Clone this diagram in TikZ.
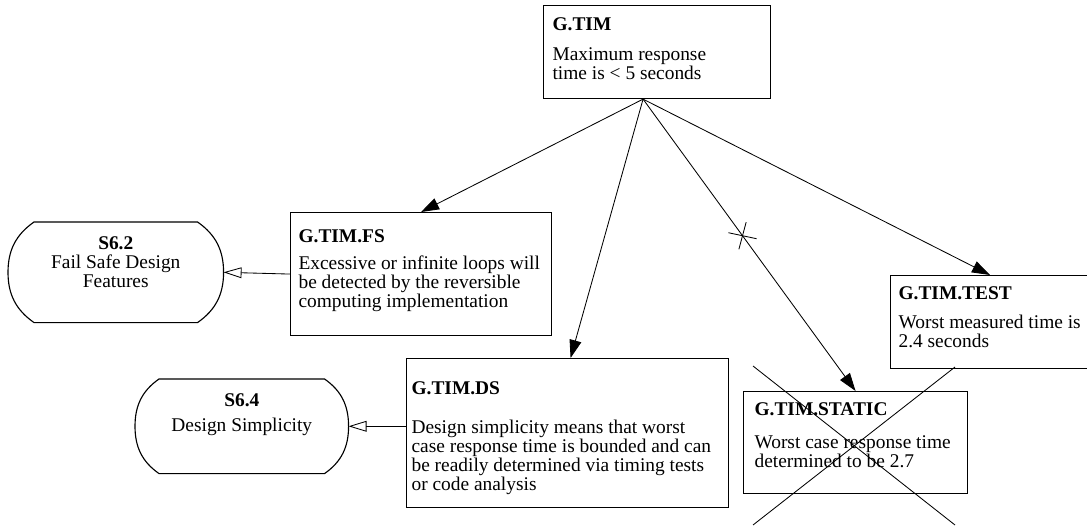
\documentclass[tikz,border=0pt]{standalone}
\usepackage{fontspec}
\setmainfont{Liberation Serif}
\usetikzlibrary{arrows.meta,calc}

\begin{document}
\begin{tikzpicture}[
    font=\fontsize{13.8}{13.5}\selectfont,
    goal/.style={draw, line width=0.8pt, rectangle, anchor=north west, inner xsep=0.2cm},
    strat/.style={rectangle, anchor=north west, inner xsep=0cm},
    solid arrow/.style={-{Triangle[length=0.45cm,width=0.3cm]}, line width=0.6pt},
    open arrow/.style={-{Triangle[open,length=0.45cm,width=0.27cm]}, line width=0.6pt}]
  \useasboundingbox (0,0) rectangle (27.175,13.15);
  % goals
  \node[goal, inner xsep=0.225cm, inner ysep=0.29cm] (gtim) at (13.575,13.025)
    {\parbox[t][1.745cm][t]{5.225cm}{\raggedright\textbf{G.TIM}\\[8.4pt]Maximum response\\time is < 5 seconds}};
  \node[goal, inner ysep=0.425cm] (fs) at (7.25,7.85)
    {\parbox[t][2.225cm][t]{6.125cm}{\raggedright\textbf{G.TIM.FS}\\[6pt]Excessive or infinite loops will\\be detected by the reversible\\computing implementation}};
  \node[goal, inner xsep=0.125cm, inner ysep=0.565cm] (ds) at (10.15,4.2)
    {\parbox[t][2.595cm][t]{7.8cm}{\raggedright\textbf{G.TIM.DS}\\[14.8pt]Design simplicity means that worst\\case response time is bounded and can\\be readily determined via timing tests\\or code analysis}};
  \node[goal, inner xsep=0.275cm, inner ysep=0.265cm] (static) at (18.575,3.375)
    {\parbox[t][2.02cm][t]{5.05cm}{\raggedright\textbf{G.TIM.STATIC}\\[10pt]Worst case response time\\determined to be 2.7}};
  \node[goal, inner ysep=0.265cm] (test) at (22.25,6.275)
    {\parbox[t][1.795cm][t]{5.2cm}{\raggedright\textbf{G.TIM.TEST}\\[7.2pt]Worst measured time is\\2.4 seconds}};
  % strategies
  \node[strat, inner ysep=0.35cm] (s62) at (0.2,7.6)
    {\parbox[t][1.8cm][t]{5.375cm}{\centering\textbf{S6.2}\\Fail Safe Design\\Features}};
  \node[strat, inner ysep=0.365cm] (s64) at (3.375,3.675)
    {\parbox[t][1.62cm][t]{5.325cm}{\centering\textbf{S6.4}\\[4.2pt]Design Simplicity}};
  \foreach \n/\b in {s62/0.65, s64/0.6}
    \draw[line width=0.8pt] ($(\n.north west)+(\b,0)$) -- ($(\n.north east)+(-\b,0)$)
      to[out=-35,in=90] (\n.east) to[out=-90,in=35] ($(\n.south east)+(-\b,0)$)
      -- ($(\n.south west)+(\b,0)$) to[out=145,in=-90] (\n.west) to[out=90,in=-145] cycle;
  % connectors
  \coordinate (hub) at ($(gtim.south)+(-0.35,0)$);
  \draw[solid arrow] (hub) -- (fs.north);
  \draw[solid arrow] (hub) -- ($(ds.north)+(0.075,0)$);
  \draw[solid arrow] (hub) -- coordinate[pos=0.468] (cut) (static.north);
  \draw[solid arrow] (hub) -- ($(test.north west)+(2.5,0)$);
  \draw[open arrow] (fs.west) -- (s62.east);
  \draw[open arrow] (ds.west |- s64.east) -- (s64.east);
  % crossed out
  \draw[line width=0.6pt] (cut) ++(168:0.36) -- ++(-12:0.72);
  \draw[line width=0.6pt] (cut) ++(255:0.35) -- ++(75:0.7);
  \draw[line width=0.6pt] (18.825,4.0) -- (23.875,0.025) (23.875,3.975) -- (18.825,0.025);
\end{tikzpicture}
\end{document}
